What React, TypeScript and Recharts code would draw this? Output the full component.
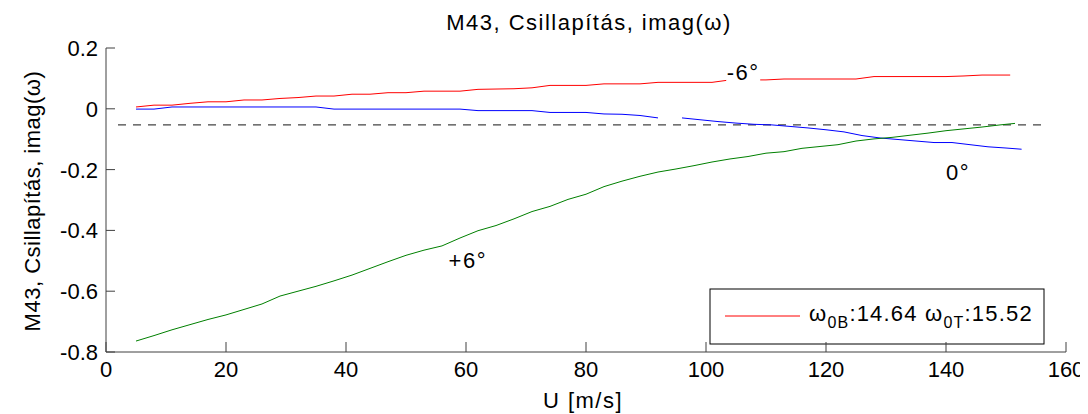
import React from "react";
import { LineChart, Line, XAxis, YAxis, ReferenceDot, Customized } from "recharts";

// Flow speed samples U [m/s] and damping imag(ω) for each pitch angle
const uMinus6 = [5, 8, 11, 14, 17, 20, 23, 26, 29, 32, 35, 38, 41, 44, 47, 50, 53, 56, 59, 62, 65, 68, 71, 74, 77, 80, 83, 86, 89, 92, 95, 98, 101, 104, 107, 110, 113, 116, 119, 122, 125, 128, 131, 134, 137, 140, 143, 146, 150.7];
const dampMinus6 = [0.006, 0.012, 0.012, 0.018, 0.023, 0.023, 0.029, 0.029, 0.034, 0.037, 0.042, 0.042, 0.048, 0.048, 0.053, 0.053, 0.058, 0.058, 0.058, 0.064, 0.065, 0.066, 0.069, 0.077, 0.077, 0.077, 0.082, 0.082, 0.082, 0.087, 0.087, 0.087, 0.087, 0.095, 0.095, 0.095, 0.098, 0.098, 0.098, 0.098, 0.098, 0.106, 0.106, 0.106, 0.106, 0.106, 0.108, 0.111, 0.111];

const uZero = [5, 8, 11, 14, 17, 20, 23, 26, 29, 32, 35, 38, 41, 44, 47, 50, 53, 56, 59, 62, 65, 68, 71, 74, 77, 80, 83, 86, 89, 92, 94, 96, 99, 102, 105, 108, 111, 114, 117, 120, 123, 126, 129, 132, 135, 138, 141, 144, 147, 150, 152.6];
const dampZero = [-0.001, -0.001, 0.006, 0.006, 0.006, 0.006, 0.006, 0.006, 0.006, 0.006, 0.006, -0.001, -0.001, -0.001, -0.001, -0.001, -0.001, -0.001, -0.001, -0.006, -0.006, -0.006, -0.006, -0.012, -0.012, -0.012, -0.017, -0.018, -0.022, -0.030, null, -0.030, -0.036, -0.042, -0.047, -0.051, -0.053, -0.058, -0.063, -0.069, -0.076, -0.088, -0.096, -0.101, -0.106, -0.111, -0.111, -0.118, -0.125, -0.129, -0.133];

const uPlus6 = [5, 8, 11, 14, 17, 20, 23, 26, 29, 32, 35, 38, 41, 44, 47, 50, 53, 56, 59, 62, 65, 68, 71, 74, 77, 80, 83, 86, 89, 92, 95, 98, 101, 104, 107, 110, 113, 116, 119, 122, 125, 128, 131, 134, 137, 140, 143, 146, 149, 151.5];
const dampPlus6 = [-0.764, -0.746, -0.727, -0.710, -0.693, -0.678, -0.660, -0.642, -0.616, -0.600, -0.584, -0.566, -0.547, -0.525, -0.503, -0.482, -0.465, -0.451, -0.425, -0.401, -0.384, -0.362, -0.338, -0.321, -0.298, -0.281, -0.256, -0.238, -0.222, -0.208, -0.198, -0.187, -0.175, -0.165, -0.157, -0.146, -0.141, -0.130, -0.124, -0.118, -0.106, -0.099, -0.094, -0.087, -0.080, -0.072, -0.066, -0.060, -0.053, -0.048];

// Dashed threshold level
const thresholdU = [2, 157];
const thresholdValue = -0.053;

const xTicks = [0, 20, 40, 60, 80, 100, 120, 140, 160];
const yTicks = [-0.8, -0.6, -0.4, -0.2, 0, 0.2];

const legendOmega0B = "14.64";
const legendOmega0T = "15.52";

const FONT = '"Liberation Sans", Arial, Helvetica, sans-serif';
const AXIS_COLOR = "#404040";

const zip = (us: number[], vs: (number | null)[]) => us.map((u, i) => ({ u, v: vs[i] }));

const seriesMinus6 = zip(uMinus6, dampMinus6);
const seriesZero = zip(uZero, dampZero);
const seriesPlus6 = zip(uPlus6, dampPlus6);
const seriesThreshold = thresholdU.map((u) => ({ u, v: thresholdValue }));

const fmtY = (v: number) => String(parseFloat(v.toFixed(1)));

const XTick = (props: any) => {
  const { x, y, payload } = props;
  return (
    <g>
      <line x1={x} x2={x} y1={y} y2={y - 10} stroke={AXIS_COLOR} strokeWidth={1} />
      <text x={x} y={y + 25} textAnchor="middle" fontFamily={FONT} fontSize={22} fill="#000">
        {payload.value}
      </text>
    </g>
  );
};

const YTick = (props: any) => {
  const { x, y, payload } = props;
  return (
    <g>
      <line x1={x} x2={x + 9} y1={y} y2={y} stroke={AXIS_COLOR} strokeWidth={1} />
      <text x={x - 8} y={y + 8} textAnchor="end" fontFamily={FONT} fontSize={22} fill="#000">
        {fmtY(payload.value)}
      </text>
    </g>
  );
};

const AngleLabel = ({ cx, cy, text, background }: any) => (
  <g>
    {background && <rect x={cx - 17} y={cy - 14} width={34} height={26} fill="#fff" />}
    <text x={cx} y={cy + 8} textAnchor="middle" fontFamily={FONT} fontSize={22} letterSpacing={1.5} fill="#000">
      {text}
    </text>
  </g>
);

const Decorations = () => (
  <g fontFamily={FONT} fill="#000">
    <text x={581} y={22} textAnchor="middle" fontSize={22} letterSpacing={1.5}>
      M43, Csillapítás, imag(ω)
    </text>
    <text x={0} y={0} transform="translate(32,193) rotate(-90)" textAnchor="middle" fontSize={22} letterSpacing={0.5}>
      M43, Csillapítás, imag(ω)
    </text>
    <text x={575} y={400} textAnchor="middle" fontSize={22} letterSpacing={1.5}>
      U [m/s]
    </text>
    <g>
      <rect x={702} y={281} width={334} height={55} fill="#fff" stroke="#000" strokeWidth={1} />
      <line x1={717} x2={792} y1={308} y2={308} stroke="#ff0000" strokeWidth={1} />
      <text x={801} y={313} fontSize={22} letterSpacing={1.2}>
        ω<tspan fontSize={16} dy={7}>0B</tspan>
        <tspan dy={-7}>:{legendOmega0B} ω</tspan>
        <tspan fontSize={16} dy={7}>0T</tspan>
        <tspan dy={-7}>:{legendOmega0T}</tspan>
      </text>
    </g>
  </g>
);

export default function App() {
  return (
    <LineChart width={1080} height={406} margin={{ top: 40, right: 22, bottom: 32, left: 38 }}>
      <XAxis
        type="number"
        dataKey="u"
        domain={[0, 160]}
        ticks={xTicks}
        allowDataOverflow
        height={30}
        tickSize={0}
        tickMargin={0}
        tickLine={false}
        stroke={AXIS_COLOR}
        tick={<XTick />}
        interval={0}
      />
      <YAxis
        type="number"
        dataKey="v"
        domain={[-0.8, 0.2]}
        ticks={yTicks}
        allowDataOverflow
        width={60}
        tickSize={0}
        tickMargin={0}
        tickLine={false}
        stroke={AXIS_COLOR}
        tick={<YTick />}
        interval={0}
      />
      <Line data={seriesThreshold} dataKey="v" stroke="#444" strokeWidth={1.2} strokeDasharray="8 7" dot={false} isAnimationActive={false} />
      <Line data={seriesMinus6} dataKey="v" stroke="#ff0000" strokeWidth={1} dot={false} isAnimationActive={false} />
      <Line data={seriesZero} dataKey="v" stroke="#0000ff" strokeWidth={1} dot={false} connectNulls={false} isAnimationActive={false} />
      <Line data={seriesPlus6} dataKey="v" stroke="#008000" strokeWidth={1} dot={false} isAnimationActive={false} />
      <ReferenceDot x={106.2} y={0.121} r={0} shape={(p: any) => <AngleLabel {...p} text="-6°" background />} />
      <ReferenceDot x={142} y={-0.207} r={0} shape={(p: any) => <AngleLabel {...p} text="0°" />} />
      <ReferenceDot x={60.3} y={-0.497} r={0} shape={(p: any) => <AngleLabel {...p} text="+6°" />} />
      <Customized component={Decorations} />
    </LineChart>
  );
}
